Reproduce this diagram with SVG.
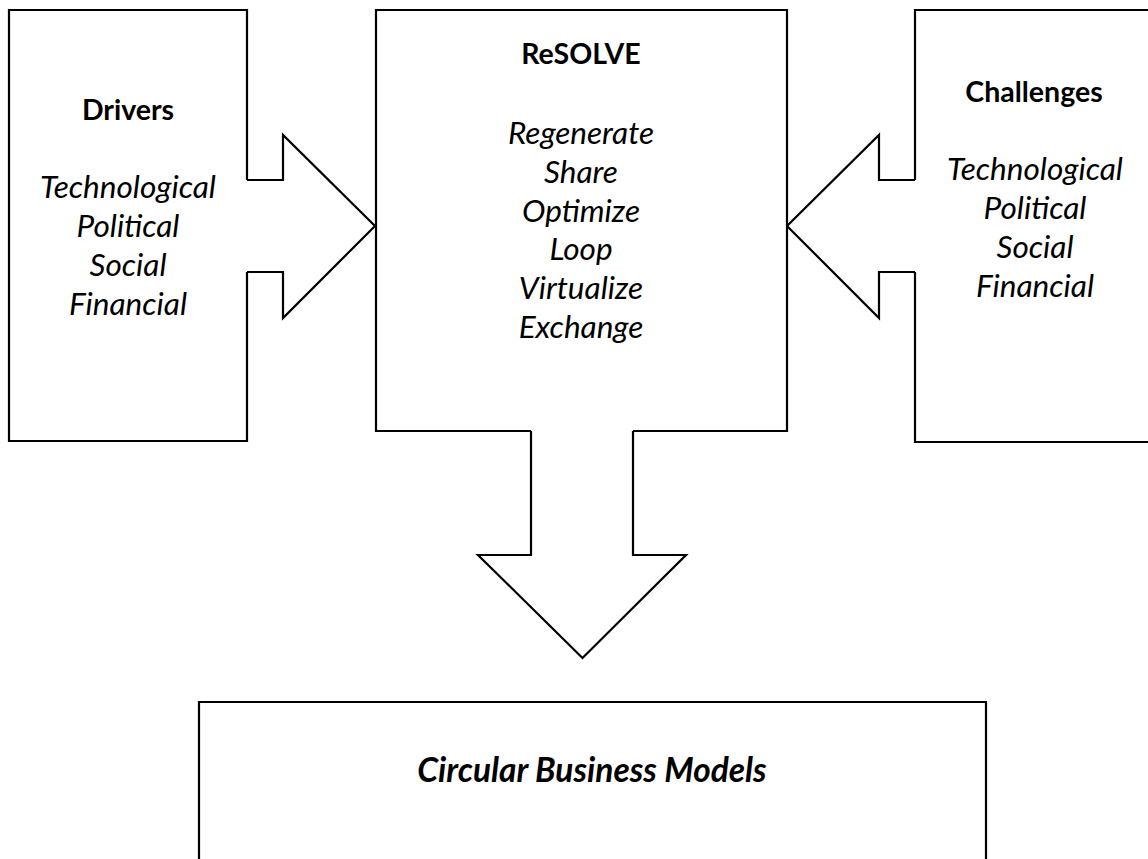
<svg xmlns="http://www.w3.org/2000/svg" width="1148" height="859" viewBox="0 0 1148 859">
<style>
.shape{fill:#fff;stroke:#000;stroke-width:2.2;stroke-linejoin:miter}
text{font-family:Lato,"Open Sans","Liberation Sans",sans-serif;fill:#000;text-anchor:middle}
.t{font-weight:bold;font-size:28.5px}
.i{font-style:italic;font-size:31.5px}
.bi{font-style:italic;font-weight:bold;font-size:33.5px}
</style>
<rect width="1148" height="859" fill="#fff"/>
<g id="connectors">
<path class="shape" d="M247,180 H283 V135 L375,226 L283,318 V272 H247"/>
<path class="shape" d="M915,180 H879 V135 L787,226 L879,318 V272 H915"/>
<path class="shape" d="M531,431 V555 H478 L582.5,658 L686,555 H633 V431"/>
</g>
<g id="drivers">
<path class="shape" d="M247,180 V10 H9 V441 H247 V272"/>
<text class="t" x="128" y="120">Drivers</text>
<text class="i" x="128" y="198">Technological</text>
<text class="i" x="128" y="237">Political</text>
<text class="i" x="128" y="276">Social</text>
<text class="i" x="128" y="315">Financial</text>
</g>
<g id="resolve">
<path class="shape" d="M531,431 H376 V10 H787 V431 H633"/>
<text class="t" x="581" y="64">ReSOLVE</text>
<text class="i" x="581" y="144">Regenerate</text>
<text class="i" x="581" y="183">Share</text>
<text class="i" x="581" y="222">Optimize</text>
<text class="i" x="581" y="260">Loop</text>
<text class="i" x="581" y="299">Virtualize</text>
<text class="i" x="581" y="338">Exchange</text>
</g>
<g id="challenges">
<path class="shape" d="M915,180 V10 H1150 M1150,442 H915 V272"/>
<text class="t" x="1034" y="102">Challenges</text>
<text class="i" x="1035" y="180">Technological</text>
<text class="i" x="1035" y="219">Political</text>
<text class="i" x="1035" y="258">Social</text>
<text class="i" x="1035" y="297">Financial</text>
</g>
<g id="circular">
<path class="shape" d="M199,870 V702 H986 V870"/>
<text class="bi" x="592" y="782">Circular Business Models</text>
</g>
</svg>
